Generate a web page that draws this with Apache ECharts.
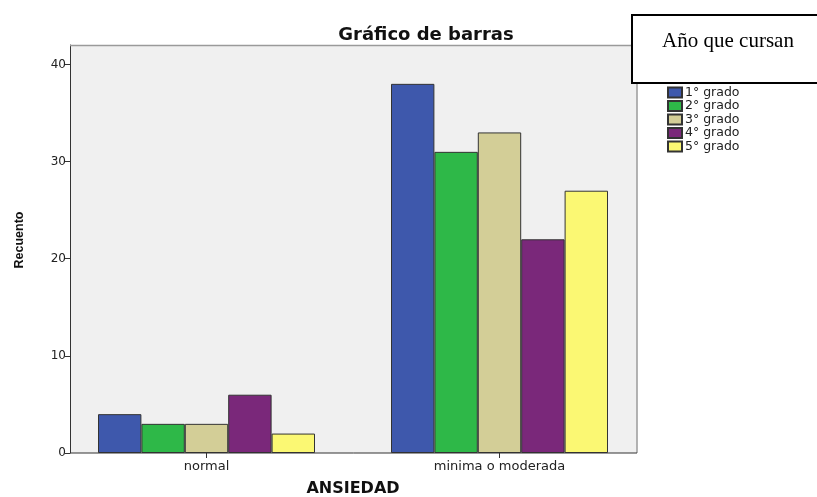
<!DOCTYPE html>
<html><head><meta charset="utf-8">
<script src="https://cdn.jsdelivr.net/npm/echarts@6/dist/echarts.min.js"></script>
<style>html,body{margin:0;padding:0;background:#fff}#c{width:817px;height:497px}</style>
</head><body><div id="c"></div>
<script>
const categories = ['normal', 'minima o moderada'];
const seriesNames = ['1° grado', '2° grado', '3° grado', '4° grado', '5° grado'];
const grado1 = [4, 38];
const grado2 = [3, 31];
const grado3 = [3, 33];
const grado4 = [6, 22];
const grado5 = [2, 27];
const yTicks = [0, 10, 20, 30, 40];
const colors = ['#3e58ac', '#2eb848', '#d3ce97', '#7a287a', '#fbf873'];
const values = [grado1, grado2, grado3, grado4, grado5];

const font = '"DejaVu Sans", sans-serif';
const chart = echarts.init(document.getElementById('c'), null, {renderer: 'canvas'});
chart.setOption({
  animation: false,
  title: {
    text: 'Gráfico de barras', left: 421, top: 21, textAlign: 'center',
    textStyle: {fontFamily: font, fontSize: 18, fontWeight: 'bold', color: '#111'}
  },
  legend: {
    orient: 'vertical', left: 667, top: 86, padding: 0, itemWidth: 14, itemHeight: 10, itemGap: 0.5,
    icon: 'rect', data: seriesNames,
    textStyle: {fontFamily: font, fontSize: 12.5, lineHeight: 10, color: '#222', padding: [0, 0, 0, -2]}
  },
  grid: {left: 60, right: 171, top: 45, bottom: 44, outerBoundsMode: 'none', containLabel: false},
  xAxis: {
    type: 'category', data: categories,
    name: 'ANSIEDAD', nameLocation: 'middle', nameGap: 28,
    nameTextStyle: {fontFamily: font, fontSize: 16, fontWeight: 'bold', color: '#111'},
    axisLine: {show: false},
    axisTick: {show: true, alignWithLabel: true, length: 5, lineStyle: {color: '#333'}},
    axisLabel: {fontFamily: font, fontSize: 13, color: '#222', margin: 7}
  },
  yAxis: {
    type: 'value', min: 0, max: 42, interval: 10, offset: -10,
    name: 'Recuento', nameLocation: 'middle', nameGap: 44, nameRotate: 90,
    nameTextStyle: {fontFamily: '"Liberation Sans", Arial, sans-serif', fontSize: 12.5, fontWeight: 'bold', color: '#111', padding: [0, 0, 0, 18]},
    axisLine: {show: true, lineStyle: {color: '#333', width: 1}},
    axisTick: {show: true, length: 5, lineStyle: {color: '#333'}, customValues: yTicks},
    axisLabel: {fontFamily: font, fontSize: 12, color: '#222', margin: 4, customValues: yTicks},
    splitLine: {show: false}
  },
  series: seriesNames.map((n, i) => ({
    name: n, type: 'bar', data: values[i], barWidth: 43.4, barGap: '0%',
    itemStyle: {color: colors[i], borderColor: '#333', borderWidth: 1}
  })),
  graphic: [
    {type: 'rect', z: -10, shape: {x: 70, y: 45, width: 567, height: 408}, style: {fill: '#f0f0f0'}},
    {type: 'polyline', z: 10, shape: {points: [[70, 45.5], [637, 45.5], [637, 453]]}, style: {stroke: '#9a9a9a', lineWidth: 1.5, fill: null}},
    {type: 'line', z: 10, shape: {x1: 70, y1: 453, x2: 637, y2: 453}, style: {stroke: '#333', lineWidth: 1}},
    {type: 'rect', z: 20, shape: {x: 632, y: 15, width: 200, height: 68}, style: {fill: '#fff', stroke: '#000', lineWidth: 2}},
    {type: 'text', z: 21, x: 728, y: 41, style: {text: 'Año que cursan', font: '21px "Liberation Serif", "Times New Roman", serif', fill: '#000', textAlign: 'center', textVerticalAlign: 'middle'}}
  ]
});
</script></body></html>
